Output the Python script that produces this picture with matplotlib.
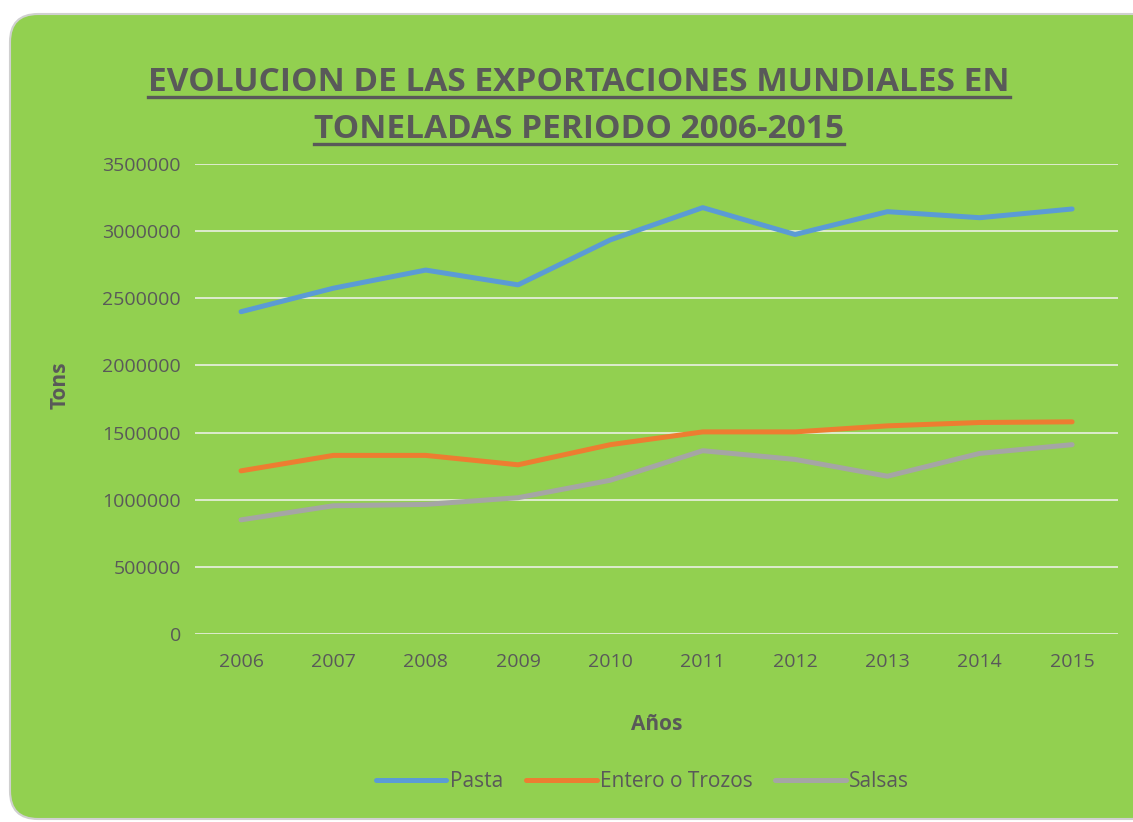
import matplotlib
matplotlib.use("Agg")
import matplotlib.pyplot as plt
from matplotlib.patches import FancyBboxPatch
from matplotlib.lines import Line2D
from matplotlib.ticker import FuncFormatter

plt.rcParams['font.family'] = ['Open Sans', 'DejaVu Sans']

years = ['2006', '2007', '2008', '2009', '2010', '2011', '2012', '2013', '2014', '2015']
pasta = [2400000, 2575000, 2710000, 2600000, 2935000, 3175000, 2975000, 3145000, 3100000, 3165000]
entero = [1215000, 1330000, 1330000, 1260000, 1410000, 1505000, 1505000, 1550000, 1575000, 1580000]
salsas = [850000, 955000, 965000, 1015000, 1145000, 1365000, 1300000, 1175000, 1345000, 1410000]

series_names = ['Pasta', 'Entero o Trozos', 'Salsas']
series_colors = ['#5B9BD5', '#ED7D31', '#A5A5A5']

green = '#92D050'
txt = '#595959'

fig = plt.figure(figsize=(11.33, 8.22), dpi=100)
fig.patch.set_facecolor('white')

# rounded green background
bg = FancyBboxPatch((0.1, 0.03), 11.5, 8.05,
                    boxstyle='round,pad=0,rounding_size=0.28',
                    transform=fig.dpi_scale_trans, facecolor=green,
                    edgecolor='#D0D0D0', linewidth=1.5, zorder=-5)
fig.patches.append(bg)

ax = fig.add_axes([0.172, 0.2287, 0.815, 0.5718])
ax.set_facecolor('none')
x = range(len(years))
for vals, name, col in zip([pasta, entero, salsas], series_names, series_colors):
    ax.plot(x, vals, color=col, lw=3.6, label=name, solid_capstyle='round')

ax.set_ylim(0, 3500000)
ax.set_xlim(-0.5, len(years) - 0.5)
ax.set_yticks(range(0, 3500001, 500000))
ax.yaxis.set_major_formatter(FuncFormatter(lambda v, p: '%d' % v))
ax.set_xticks(list(x))
ax.set_xticklabels(years)
ax.yaxis.grid(True, color='#E3EDD8', lw=1.3)
ax.set_axisbelow(True)
for s in ax.spines.values():
    s.set_visible(False)
ax.tick_params(length=0, colors=txt, labelsize=14)
ax.tick_params(axis='y', pad=10)
ax.tick_params(axis='x', pad=14)

ax.set_ylabel('Tons', fontsize=15, fontweight='bold', color=txt)
ax.set_xlabel('Años', fontsize=15, fontweight='bold', color=txt)
ax.yaxis.set_label_coords(-0.135, 0.53)
ax.xaxis.set_label_coords(0.5, -0.17)

leg = fig.legend(loc='center', bbox_to_anchor=(0.567, 0.049), ncol=3, frameon=False,
                 fontsize=15, handlelength=3.4, columnspacing=1.1, handletextpad=0.15)
for t in leg.get_texts():
    t.set_color(txt)

# title with underline
title_lines = ['EVOLUCION DE LAS EXPORTACIONES MUNDIALES EN', 'TONELADAS PERIODO 2006-2015']
title_y = [0.9, 0.843]
texts = []
for line, ty in zip(title_lines, title_y):
    t = fig.text(0.511, ty, line, ha='center', va='center', fontsize=24,
                 fontweight='bold', color=txt)
    texts.append(t)

fig.canvas.draw()
renderer = fig.canvas.get_renderer()
W, H = fig.bbox.width, fig.bbox.height
for t in texts:
    bb = t.get_window_extent(renderer)
    yy = (bb.y0 + 2) / H
    fig.add_artist(Line2D([bb.x0 / W, bb.x1 / W], [yy, yy], color=txt, lw=2.4))

fig.savefig('out.png', dpi=100, facecolor='white')
